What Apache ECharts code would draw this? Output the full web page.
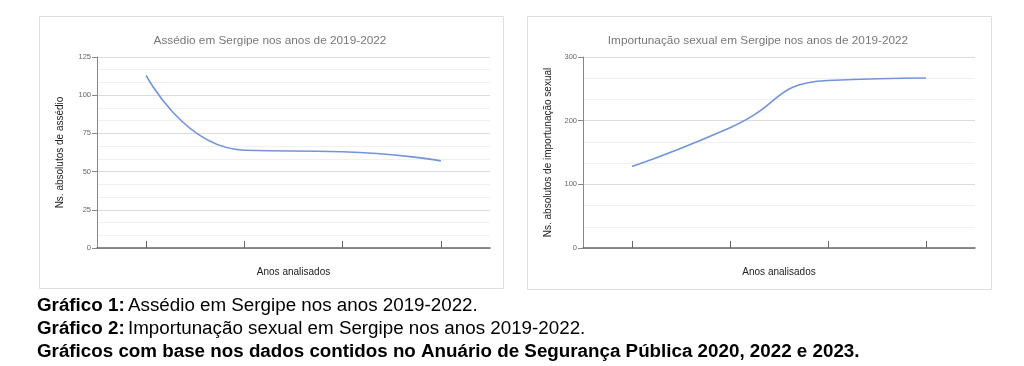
<!DOCTYPE html>
<html>
<head>
<meta charset="utf-8">
<script src="https://cdn.jsdelivr.net/npm/echarts@6/dist/echarts.min.js"></script>
<style>
html,body{margin:0;padding:0;background:#fff;}
#c{width:1024px;height:366px;}
</style>
</head>
<body>
<div id="c"></div>
<script>
var categories = ['2019', '2020', '2021', '2022'];
var assedio = [113, 64, 63, 57];
var importunacao = [128, 189, 263, 267];
var ticks1 = {min: 0, max: 125, interval: 25};
var ticks2 = {min: 0, max: 300, interval: 100};

var FONT = 'Liberation Sans, Arial, sans-serif';
var lineColor = '#7394dc';
var CAP = 18.8;

function xAxisDef(gi) {
  return {
    gridIndex: gi, type: 'category', data: categories, boundaryGap: true,
    name: 'Anos analisados', nameLocation: 'middle', nameGap: 19,
    nameTextStyle: {fontFamily: FONT, fontSize: 10, color: '#222'},
    axisLine: {lineStyle: {color: '#666', width: 1.5}},
    axisTick: {show: true, inside: true, length: 7, alignWithLabel: true, lineStyle: {color: '#666'}},
    axisLabel: {show: false},
    splitLine: {show: false}
  };
}
function yAxisDef(gi, t, name, gap) {
  return {
    gridIndex: gi, type: 'value', min: t.min, max: t.max, interval: t.interval,
    name: name, nameLocation: 'middle', nameGap: gap,
    nameTextStyle: {fontFamily: FONT, fontSize: 10, color: '#222'},
    axisLine: {show: true, lineStyle: {color: '#888', width: 1}},
    axisTick: {show: true, length: 5, lineStyle: {color: '#888'}},
    axisLabel: {fontFamily: FONT, fontSize: 7.5, color: '#666', margin: 6},
    splitLine: {show: true, lineStyle: {color: '#dcdcdc', width: 1}},
    minorTick: {show: false, splitNumber: 3},
    minorSplitLine: {show: true, lineStyle: {color: '#f0f0f0', width: 1}}
  };
}

var chart = echarts.init(document.getElementById('c'), null, {renderer: 'canvas'});
chart.setOption({
  animation: false,
  backgroundColor: '#fff',
  title: [
    {text: 'Assédio em Sergipe nos anos de 2019-2022', left: 265, top: 30, textAlign: 'center',
     textStyle: {fontFamily: FONT, fontSize: 11.8, fontWeight: 'normal', color: '#777'}},
    {text: 'Importunação sexual em Sergipe nos anos de 2019-2022', left: 753, top: 30, textAlign: 'center',
     textStyle: {fontFamily: FONT, fontSize: 11.8, fontWeight: 'normal', color: '#777'}}
  ],
  grid: [
    {left: 97, top: 57, width: 393, height: 191},
    {left: 583, top: 57, width: 392, height: 191}
  ],
  xAxis: [xAxisDef(0), xAxisDef(1)],
  yAxis: [
    yAxisDef(0, ticks1, 'Ns. absolutos de assédio', 32),
    yAxisDef(1, ticks2, 'Ns. absolutos de importunação sexual', 30)
  ],
  series: [
    {type: 'line', xAxisIndex: 0, yAxisIndex: 0, data: assedio, smooth: 0.55, showSymbol: false,
     lineStyle: {color: lineColor, width: 1.6}},
    {type: 'line', xAxisIndex: 1, yAxisIndex: 1, data: importunacao, smooth: 0.55, showSymbol: false,
     lineStyle: {color: lineColor, width: 1.6}}
  ],
  graphic: [
    {type: 'rect', shape: {x: 39.5, y: 16.5, width: 464, height: 272}, style: {fill: null, stroke: '#dedede', lineWidth: 1}, silent: true, z: -1},
    {type: 'rect', shape: {x: 527.5, y: 16.5, width: 464, height: 273}, style: {fill: null, stroke: '#dedede', lineWidth: 1}, silent: true, z: -1},
    {type: 'text', left: 37, top: 296.5, style: {
      text: '{b|Gráfico 1:} {n|Assédio em Sergipe nos anos 2019-2022.}',
      rich: {b: {fontFamily: FONT, fontSize: CAP, fontWeight: 'bold', fill: '#000'}, n: {fontFamily: FONT, fontSize: CAP, fill: '#000'}}
    }},
    {type: 'text', left: 37, top: 319, style: {
      text: '{b|Gráfico 2:} {n|Importunação sexual em Sergipe nos anos 2019-2022.}',
      rich: {b: {fontFamily: FONT, fontSize: CAP, fontWeight: 'bold', fill: '#000'}, n: {fontFamily: FONT, fontSize: CAP, fill: '#000'}}
    }},
    {type: 'text', left: 37, top: 342, style: {
      text: 'Gráficos com base nos dados contidos no Anuário de Segurança Pública 2020, 2022 e 2023.',
      fontFamily: FONT, fontSize: CAP, fontWeight: 'bold', fill: '#000'
    }}
  ]
});
</script>
</body>
</html>
